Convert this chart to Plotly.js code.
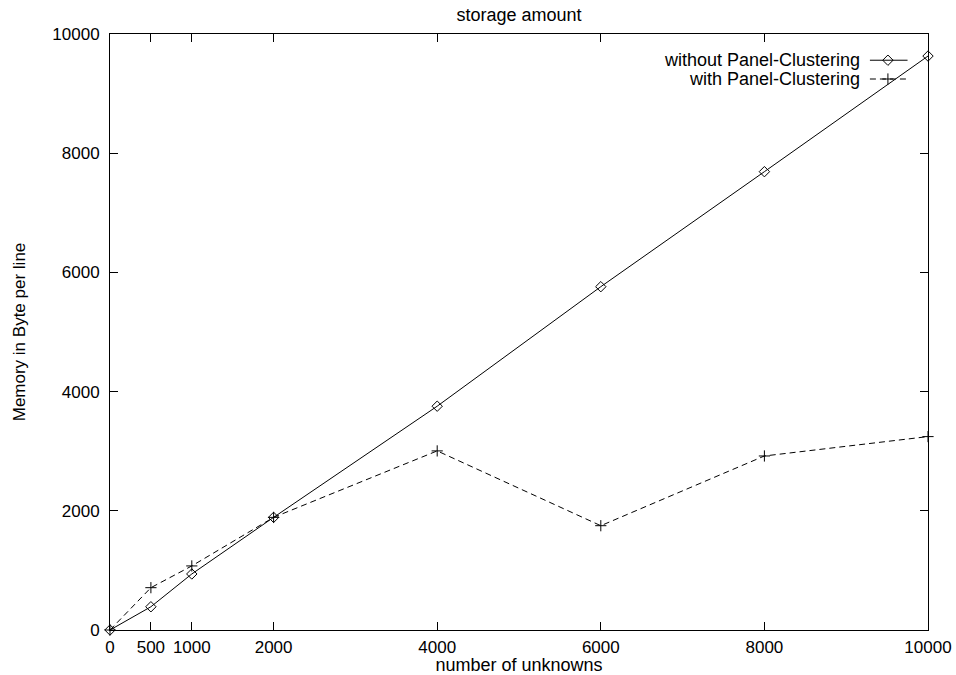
<!DOCTYPE html>
<html>
<head>
<meta charset="utf-8">
<script src="https://cdn.plot.ly/plotly-3.0.1.min.js"></script>
<style>
html,body{margin:0;padding:0;background:#fff;}
#chart{width:956px;height:675px;}
</style>
</head>
<body>
<div id="chart"></div>
<script>
// ---- data ----
const unknowns = [0, 500, 1000, 2000, 4000, 6000, 8000, 10000];
const withoutClustering = [0, 390, 940, 1890, 3755, 5760, 7690, 9630];
const withClustering = [0, 710, 1075, 1890, 3005, 1750, 2920, 3245];
const xTickVals = [0, 500, 1000, 2000, 4000, 6000, 8000, 10000];
const xTickText = ["0", "500", "1000", "2000", "4000", "6000", "8000", "10000"];
const yTickVals = [0, 2000, 4000, 6000, 8000, 10000];
const yTickText = ["0", "2000", "4000", "6000", "8000", "10000"];
const seriesNames = ["without Panel-Clustering", "with Panel-Clustering"];
const chartTitle = "storage amount";
const xTitle = "number of unknowns";
const yTitle = "Memory in Byte per line";

const FONT = "Liberation Sans, Arial, Helvetica, sans-serif";

// legend key layout (paper coords of the plot area)
const keyTextX = 0.919;
const keyRowY = [0.956, 0.9245];
const keySampleX = [0.929, 0.975];
const keyMarkX = 0.951;

const diamondMarker = {symbol: 'diamond-open', size: 8, color: '#000', line: {width: 1, color: '#000'}};
const plusMarker = {symbol: 'cross-thin-open', size: 8, color: '#000', line: {width: 1, color: '#000'}};

const traces = [
  {
    x: unknowns, y: withoutClustering, type: 'scatter', mode: 'lines+markers',
    name: seriesNames[0], showlegend: false,
    line: {color: '#000', width: 1},
    marker: diamondMarker, cliponaxis: false
  },
  {
    x: unknowns, y: withClustering, type: 'scatter', mode: 'lines+markers',
    name: seriesNames[1], showlegend: false,
    line: {color: '#000', width: 1, dash: '6px,4px'},
    marker: plusMarker, cliponaxis: false
  },
  // legend key samples on an overlay axis spanning the plot area
  {
    x: keySampleX, y: [keyRowY[0], keyRowY[0]], xaxis: 'x2', yaxis: 'y2', type: 'scatter', mode: 'lines',
    showlegend: false, hoverinfo: 'skip', line: {color: '#000', width: 1}, cliponaxis: false
  },
  {
    x: [keyMarkX], y: [keyRowY[0]], xaxis: 'x2', yaxis: 'y2', type: 'scatter', mode: 'markers',
    showlegend: false, hoverinfo: 'skip', cliponaxis: false, marker: diamondMarker
  },
  {
    x: keySampleX, y: [keyRowY[1], keyRowY[1]], xaxis: 'x2', yaxis: 'y2', type: 'scatter', mode: 'lines',
    showlegend: false, hoverinfo: 'skip', line: {color: '#000', width: 1, dash: '6px,4px'}, cliponaxis: false
  },
  {
    x: [keyMarkX], y: [keyRowY[1]], xaxis: 'x2', yaxis: 'y2', type: 'scatter', mode: 'markers',
    showlegend: false, hoverinfo: 'skip', cliponaxis: false, marker: plusMarker
  }
];

const axisCommon = {
  showgrid: false, zeroline: false, showline: true, linecolor: '#000', linewidth: 1,
  mirror: 'ticks', ticks: 'inside', ticklen: 8, tickwidth: 1, tickcolor: '#000',
  tickfont: {family: FONT, size: 17, color: '#000'}
};

const layout = {
  width: 956, height: 675,
  paper_bgcolor: '#fff', plot_bgcolor: '#fff',
  margin: {l: 110, r: 28, t: 34, b: 45, pad: 0},
  font: {family: FONT, size: 17, color: '#000'},
  title: {text: chartTitle, font: {family: FONT, size: 18, color: '#000'},
          x: 0.5, xanchor: 'center', y: 1 - 15 / 675, yanchor: 'middle', xref: 'paper', yref: 'container'},
  xaxis: Object.assign({}, axisCommon, {
    range: [0, 10000], tickmode: 'array', tickvals: xTickVals, ticktext: xTickText,
    ticklabelstandoff: 2,
    title: {text: xTitle, font: {family: FONT, size: 18, color: '#000'}, standoff: 0}
  }),
  yaxis: Object.assign({}, axisCommon, {
    range: [0, 10000], tickmode: 'array', tickvals: yTickVals, ticktext: yTickText,
    ticklabelstandoff: 6,
    title: {text: yTitle, font: {family: FONT, size: 17, color: '#000'}, standoff: 22}
  }),
  xaxis2: {range: [0, 1], overlaying: 'x', visible: false, fixedrange: true},
  yaxis2: {range: [0, 1], overlaying: 'y', visible: false, fixedrange: true},
  annotations: [
    {text: seriesNames[0], xref: 'paper', yref: 'paper', x: keyTextX, y: keyRowY[0],
     xanchor: 'right', yanchor: 'middle', showarrow: false, font: {family: FONT, size: 18, color: '#000'}},
    {text: seriesNames[1], xref: 'paper', yref: 'paper', x: keyTextX, y: keyRowY[1],
     xanchor: 'right', yanchor: 'middle', showarrow: false, font: {family: FONT, size: 18, color: '#000'}}
  ],
  showlegend: false
};

Plotly.newPlot('chart', traces, layout, {displayModeBar: false, staticPlot: true});
</script>
</body>
</html>
